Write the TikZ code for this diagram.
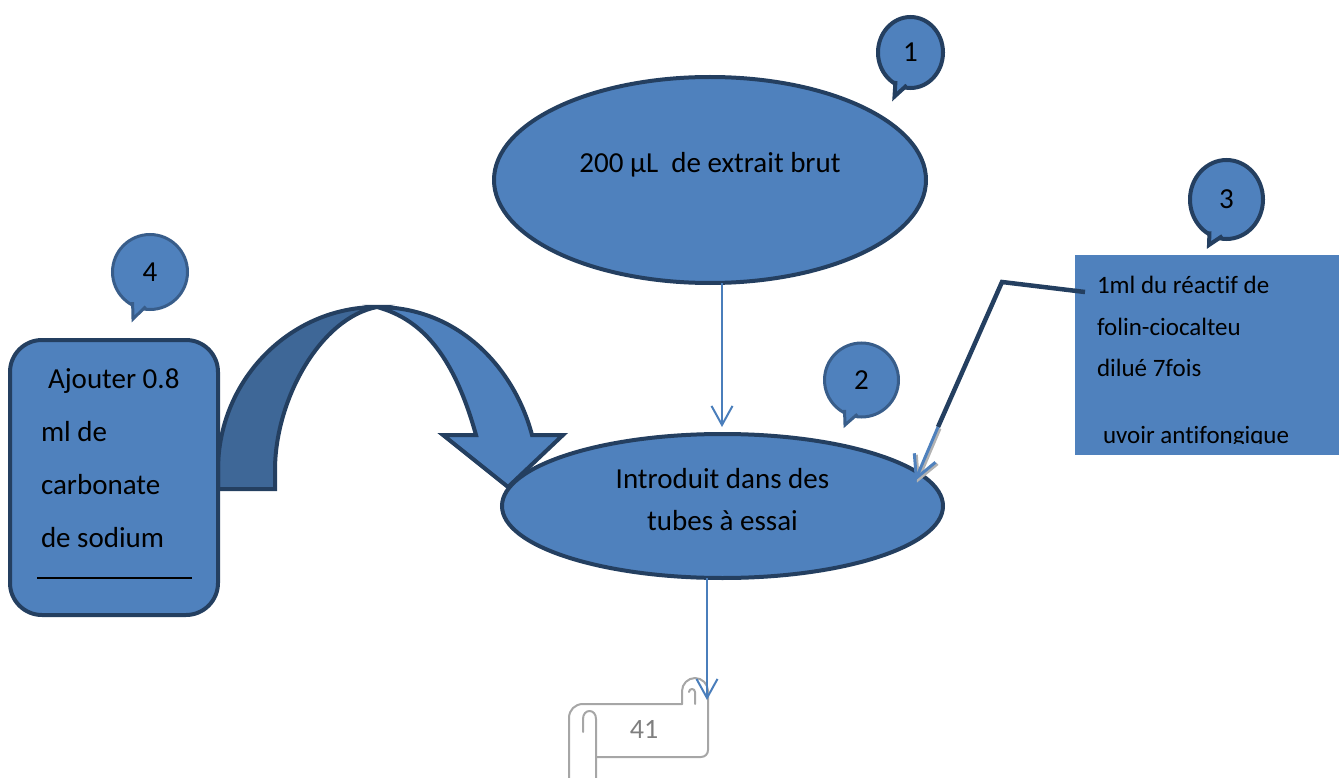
\documentclass[tikz,border=0pt]{standalone}
\usepackage{fontspec}
\setmainfont{Carlito}[Ligatures=NoCommon]
\usetikzlibrary{arrows.meta,calc,shapes.geometric}
\definecolor{shapefill}{HTML}{4F81BD}
\definecolor{shapeedge}{HTML}{243F60}
\definecolor{softedge}{HTML}{385D8A}
\definecolor{bandshade}{HTML}{3E6797}
\definecolor{flowline}{HTML}{4A7EBB}
\definecolor{scrollgrey}{HTML}{A6A6A6}
\definecolor{scrolltext}{HTML}{7F7F7F}

\begin{document}
\begin{tikzpicture}[x=1pt,y=-1pt,
  every node/.style={inner sep=0pt, outer sep=0pt},
  bigtext/.style={font=\fontsize{29}{35}\selectfont},
  boxtext/.style={font=\fontsize{25}{30}\selectfont},
  blob/.style={ellipse, fill=shapefill, draw=shapeedge, line width=4pt},
  bubble/.style={ellipse, fill=shapefill, font=\fontsize{29}{35}\selectfont},
  darkbubble/.style={bubble, draw=shapeedge, line width=4pt},
  softbubble/.style={bubble, draw=softedge, line width=3pt},
  darktail/.style={fill=shapefill, draw=shapeedge, line width=4pt},
  softtail/.style={fill=shapefill, draw=softedge, line width=3pt},
  band/.style={draw=shapeedge, line width=4pt},
  flow/.style={draw=flowline, line width=2pt, -{Straight Barb[length=19pt,width=21pt]}},
  elbow/.style={draw=shapeedge, line width=4.5pt},
  scrollline/.style={draw=scrollgrey, line width=2pt, line cap=round, line join=round}]

\useasboundingbox (0,0) rectangle (1339,778);

% reagent panel on the right
\node[fill=shapefill, minimum width=264pt, minimum height=200pt] (box3) at (1207,355) {};
\node[boxtext, anchor=base west] (t3) at (1097,294)
  {\vtop{\baselineskip=41.5pt\hbox{1ml du réactif de}\hbox{folin-ciocalteu}\hbox{dilué 7fois}}};
\begin{scope}
  \clip (1075,255) rectangle (1339,443.5);
  \node[boxtext, anchor=base west] (t3b) at (1103,443) {uvoir antifongique};
\end{scope}

% curved block arrow from the carbonate box
\path[band, fill=bandshade] (218,489) -- (218,470) .. controls (218,380) and (290,307) .. (377,307)
  .. controls (320,318) and (275,400) .. (275,470) -- (275,489) -- cycle;
\path[band, fill=shapefill] (377,307) .. controls (460,307) and (515,370) .. (532,435)
  -- (563,435) -- (508,487) -- (443,435) -- (476,435)
  .. controls (455,360) and (425,320) .. (377,307) -- cycle;

% carbonate box
\node[fill=shapefill, draw=shapeedge, line width=4pt, rounded corners=32pt,
      minimum width=208pt, minimum height=275pt] (box4) at (114,477.5) {};
\node[bigtext, anchor=base west] (t4) at (41,388)
  {\vtop{\baselineskip=53pt\hbox{\hskip7pt Ajouter 0.8}\hbox{ml de}\hbox{carbonate}\hbox{de sodium}}};
\draw[line width=1.8pt] ($(box4.south west)+(27,-37)$) -- ($(box4.south west)+(182,-37)$);

% main steps
\node[blob, minimum width=432pt, minimum height=206pt] (e1) at (710,180) {};
\node[bigtext, anchor=base] (t1) at (710,173) {200 µL~ de extrait brut};
\node[blob, minimum width=441pt, minimum height=144pt] (e2) at (722.5,506) {};
\node[bigtext, anchor=base] (t2) at (722.5,488)
  {\vtop{\baselineskip=42pt\hbox to 0pt{\hss Introduit dans des\hss}\hbox to 0pt{\hss tubes à essai\hss}}};

% page scroll
\draw[scrollline] (569,790) -- (569,718) .. controls (569,710) and (575,704) .. (583,704) -- (682,704);
\draw[scrollline] (583,732) -- (583,719) .. controls (583,714) and (586,711) .. (589.5,711)
  .. controls (593,711) and (596,714) .. (596,719) -- (596,790);
\draw[scrollline] (596,757) -- (701,757) .. controls (705,757) and (708,754) .. (708,750)
  -- (708,691) .. controls (708,684) and (702,678) .. (695,678)
  .. controls (688,678) and (682,684) .. (682,691) -- (682,704);
\draw[scrollline] (689,692) .. controls (689,688) and (695,688) .. (695,692) -- (695,704);
\node[font=\fontsize{28}{34}\selectfont, text=scrolltext, anchor=base] (n41) at (644,738) {41};
\coordinate (scrolltip) at (707,700);

% thin flow arrows
\draw[flow] ([xshift=12pt]e1.south) -- ([xshift=-0.5pt,yshift=7pt]e2.north);
\draw[flow] ([xshift=-15.5pt]e2.south) -- (scrolltip);

% elbow connector from the reagent panel
\coordinate (k1) at (1002,282);
\coordinate (k2) at (938,427);
\coordinate (k3) at (915,481);
\draw[elbow] ($(box3.north west)+(10,37)$) -- (k1) -- (k2);
\draw[draw=gray!60, line width=3pt, -{Straight Barb[length=22pt,width=23pt]}]
  ([xshift=2pt,yshift=-1.5pt]k2) -- ([xshift=2pt,yshift=-1.5pt]k3);
\draw[draw=shapefill, line width=3pt, -{Straight Barb[length=22pt,width=23pt]}] (k2) -- (k3);

% numbered callouts
\node[darkbubble, minimum width=65pt, minimum height=71pt] (c1) at (910.5,52.5) {1};
\path[darktail] ($(c1.center)+(-15,28.5)$) -- ($(c1.center)+(-16,44)$) -- ($(c1.center)+(-3.7,32.8)$);
\node[softbubble, minimum width=74pt, minimum height=74pt] (c2) at (861.5,380) {2};
\path[softtail] ($(c2.center)+(-17,29.8)$) -- ($(c2.center)+(-16.5,45)$) -- ($(c2.center)+(-4.2,34.2)$);
\node[darkbubble, minimum width=73pt, minimum height=79pt] (c3) at (1226.5,199.5) {3};
\path[darktail] ($(c3.center)+(-17,31.8)$) -- ($(c3.center)+(-17.5,45.5)$) -- ($(c3.center)+(-4.1,36.5)$);
\node[softbubble, minimum width=75pt, minimum height=75pt] (c4) at (150,272) {4};
\path[softtail] ($(c4.center)+(-17.4,30.2)$) -- ($(c4.center)+(-17,47)$) -- ($(c4.center)+(-4.3,34.6)$);

\end{tikzpicture}
\end{document}
